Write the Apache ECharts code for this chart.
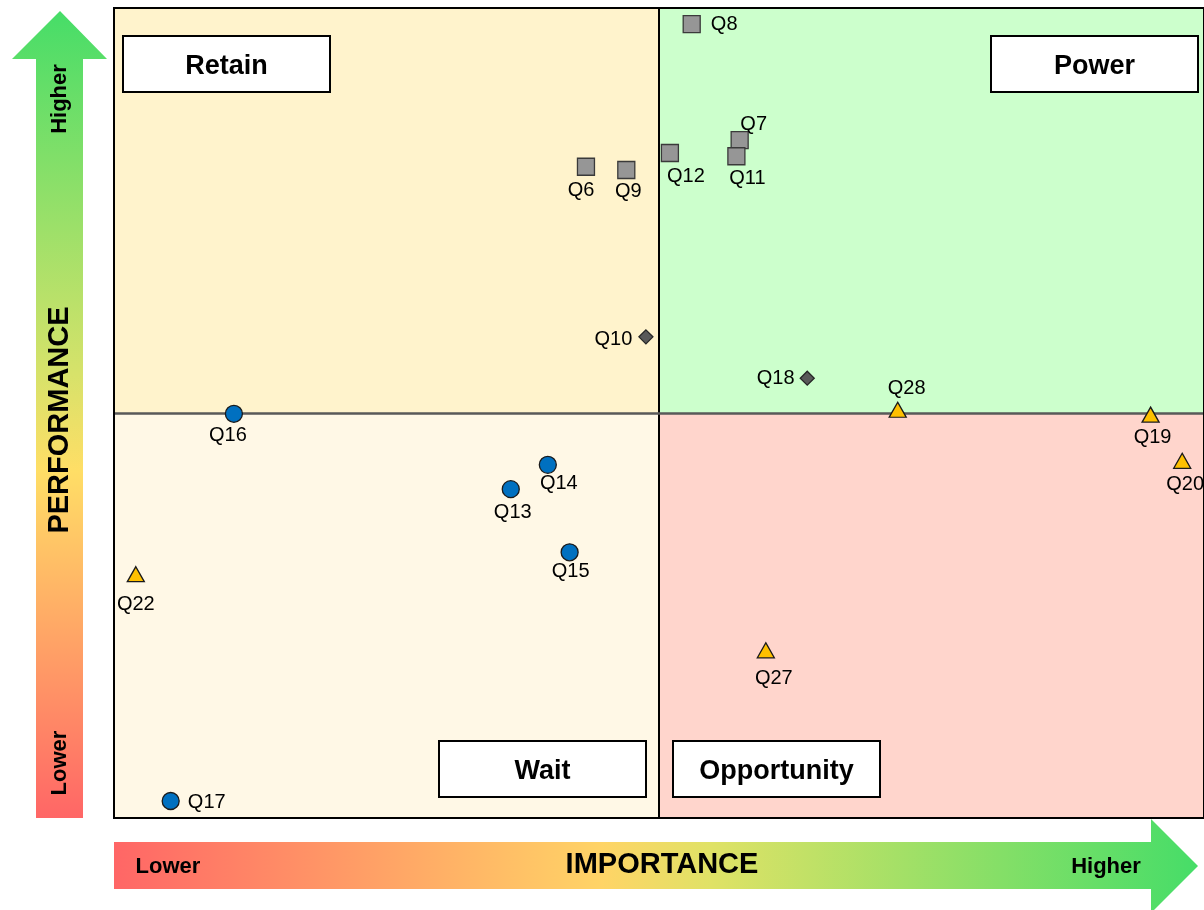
<!DOCTYPE html>
<html>
<head>
<meta charset="utf-8">
<script src="https://cdn.jsdelivr.net/npm/echarts@6/dist/echarts.min.js"></script>
<style>html,body{margin:0;padding:0;background:#fff;}#c{width:1204px;height:910px;}</style>
</head>
<body>
<div id="c"></div>
<script>
// ---- data ----
const names       = ['Q6','Q7','Q8','Q9','Q11','Q12','Q10','Q18','Q19','Q20','Q22','Q27','Q28','Q13','Q14','Q15','Q16','Q17'];
const importance  = [4.33,5.74,5.30,4.70,5.71,5.10,4.88,6.36,9.51,9.80,0.20,5.98,7.19,3.64,3.98,4.18,1.10,0.52];
const performance = [8.04,8.37,9.80,8.00,8.17,8.21,5.94,5.43,4.98,4.41,3.01,2.07,5.04,4.06,4.36,3.28,4.99,0.21];
const groups      = ['sq','sq','sq','sq','sq','sq','dm','dm','tr','tr','tr','tr','tr','ci','ci','ci','ci','ci'];
const quadrantNames = ['Retain','Power','Wait','Opportunity'];
const axisLabels = {y:['Higher','PERFORMANCE','Lower'], x:['Lower','IMPORTANCE','Higher']};
const axisMin = 0, axisMax = 10, axisMid = 5;

// ---- styles ----
const groupStyle = {
  sq:{symbol:'rect', size:17, color:'#969696', border:'#3a3a3a'},
  dm:{symbol:'diamond', size:14, color:'#595959', border:'#262626'},
  tr:{symbol:'triangle', size:[17,15], color:'#FFC000', border:'#1a1a1a'},
  ci:{symbol:'circle', size:17, color:'#0070C0', border:'#1a1a1a'}
};
const labelCfg = {
  Q6:{p:'bottom',o:[-5,1]}, Q7:{p:'top',o:[14,8]}, Q8:{p:'right',o:[6,0]}, Q9:{p:'bottom',o:[2,-2]},
  Q11:{p:'bottom',o:[11,-1]}, Q12:{p:'bottom',o:[16,0]}, Q10:{p:'left',o:[-2,3]}, Q18:{p:'left',o:[-1,0]},
  Q19:{p:'bottom',o:[2,1]}, Q20:{p:'bottom',o:[3,2]}, Q22:{p:'bottom',o:[0,8]}, Q27:{p:'bottom',o:[8,6]},
  Q28:{p:'top',o:[9,1]}, Q13:{p:'bottom',o:[2,0]}, Q14:{p:'bottom',o:[11,-5]}, Q15:{p:'bottom',o:[1,-4]},
  Q16:{p:'bottom',o:[-6,-1]}, Q17:{p:'right',o:[4,1]}
};
const FONT = 'Liberation Sans, Arial, sans-serif';

const series = [];
Object.keys(groupStyle).forEach((g, gi) => {
  const st = groupStyle[g];
  const data = [];
  names.forEach((n, i) => {
    if (groups[i] !== g) return;
    const lc = labelCfg[n];
    data.push({
      name: n, value: [importance[i], performance[i]],
      label: {show:true, position: lc.p, offset: lc.o, formatter: n, distance: 4,
              color:'#000', opacity:1, fontSize:20, fontFamily:FONT}
    });
  });
  const s = {
    type:'scatter', name:g, symbol: st.symbol, symbolSize: st.size, z: 5,
    itemStyle:{color: st.color, borderColor: st.border, borderWidth: 1.3, opacity:1},
    label:{color:'#000', fontSize:20, fontFamily:FONT},
    emphasis:{disabled:true},
    data
  };
  if (gi === 0) {
    s.markArea = {
      silent:true,
      data:[
        [{coord:[axisMin,axisMid], itemStyle:{color:'#FFF3CC', opacity:1}},{coord:[axisMid,axisMax]}],
        [{coord:[axisMid,axisMid], itemStyle:{color:'#CCFFCC', opacity:1}},{coord:[axisMax,axisMax]}],
        [{coord:[axisMin,axisMin], itemStyle:{color:'#FFF8E6', opacity:1}},{coord:[axisMid,axisMid]}],
        [{coord:[axisMid,axisMin], itemStyle:{color:'#FFD5CC', opacity:1}},{coord:[axisMax,axisMid]}]
      ]
    };
    s.markLine = {
      silent:true, symbol:'none', label:{show:false},
      data:[
        {xAxis: axisMid, lineStyle:{color:'#000', width:2, type:'solid', opacity:1}},
        {yAxis: axisMid, lineStyle:{color:'#595959', width:2.5, type:'solid', opacity:1}}
      ]
    };
  }
  series.push(s);
});

function quadBox(text, x, y, w, h) {
  return [
    {type:'rect', z:50, shape:{x:x,y:y,width:w,height:h}, style:{fill:'#fff', stroke:'#000', lineWidth:2}},
    {type:'text', z:51, x:x+w/2, y:y+h/2+3, style:{text:text, fill:'#000', font:'bold 27px '+FONT, align:'center', verticalAlign:'middle'}}
  ];
}
const vGrad = new echarts.graphic.LinearGradient(0,0,0,1,[
  {offset:0,color:'#46DD68'},{offset:0.45,color:'#D7E26A'},{offset:0.57,color:'#FFDE66'},{offset:1,color:'#FF6666'}]);
const hGrad = new echarts.graphic.LinearGradient(0,0,1,0,[
  {offset:0,color:'#FF6666'},{offset:0.45,color:'#FFD466'},{offset:0.55,color:'#E0E266'},{offset:1,color:'#46DD68'}]);

const option = {
  animation:false,
  backgroundColor:'#fff',
  grid:{left:114, top:8, width:1092, height:810, show:true, borderColor:'#000', borderWidth:2, backgroundColor:'transparent', z:10},
  xAxis:{type:'value', min:axisMin, max:axisMax, show:false},
  yAxis:{type:'value', min:axisMin, max:axisMax, show:false},
  series,
  graphic:[
    {type:'polygon', shape:{points:[[36,818],[36,59],[12,59],[60,11],[107,59],[83,59],[83,818]]}, style:{fill:vGrad}, z:1},
    {type:'text', x:60, y:99, rotation:Math.PI/2, style:{text:axisLabels.y[0], font:'bold 22px '+FONT, fill:'#000', align:'center', verticalAlign:'middle'}, z:2},
    {type:'text', x:60, y:420, rotation:Math.PI/2, style:{text:axisLabels.y[1], font:'bold 29px '+FONT, fill:'#000', align:'center', verticalAlign:'middle'}, z:2},
    {type:'text', x:60, y:763, rotation:Math.PI/2, style:{text:axisLabels.y[2], font:'bold 22px '+FONT, fill:'#000', align:'center', verticalAlign:'middle'}, z:2},
    {type:'polygon', shape:{points:[[114,842],[1151,842],[1151,819],[1198,866],[1151,913],[1151,889],[114,889]]}, style:{fill:hGrad}, z:1},
    {type:'text', x:168, y:867, style:{text:axisLabels.x[0], font:'bold 22px '+FONT, fill:'#000', align:'center', verticalAlign:'middle'}, z:2},
    {type:'text', x:662, y:865, style:{text:axisLabels.x[1], font:'bold 29px '+FONT, fill:'#000', align:'center', verticalAlign:'middle'}, z:2},
    {type:'text', x:1106, y:867, style:{text:axisLabels.x[2], font:'bold 22px '+FONT, fill:'#000', align:'center', verticalAlign:'middle'}, z:2},
    ...quadBox(quadrantNames[0], 123, 36, 207, 56),
    ...quadBox(quadrantNames[1], 991, 36, 207, 56),
    ...quadBox(quadrantNames[2], 439, 741, 207, 56),
    ...quadBox(quadrantNames[3], 673, 741, 207, 56)
  ]
};
const chart = echarts.init(document.getElementById('c'), null, {renderer:'canvas'});
chart.setOption(option);
</script>
</body>
</html>
